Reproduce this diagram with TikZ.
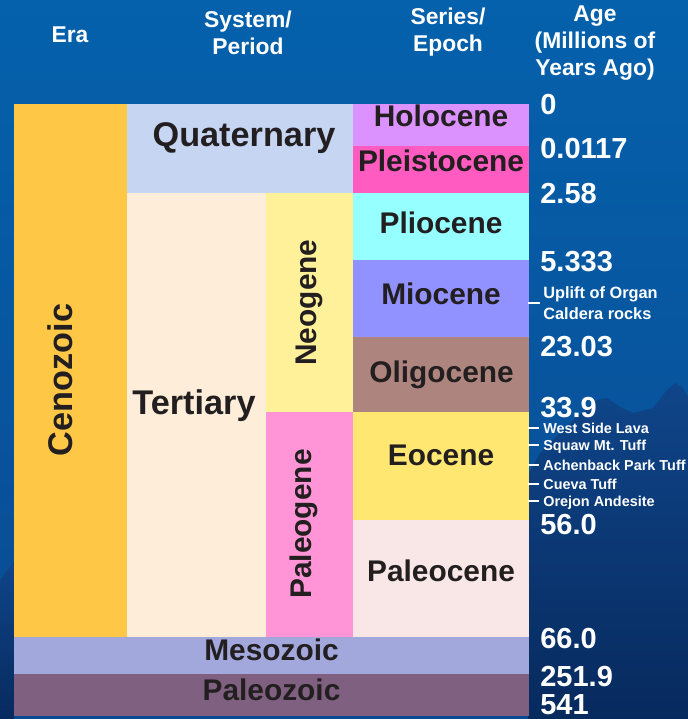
\documentclass[tikz,border=0pt]{standalone}
\usepackage{fontspec}
\setmainfont{Liberation Sans}
\usepackage{tikz}
\usepackage{xcolor}
\definecolor{skytop}{HTML}{0561AC}
\definecolor{skybot}{HTML}{0A4A92}
\definecolor{hilltop}{HTML}{0F4589}
\definecolor{hillbot}{HTML}{072A5E}
\definecolor{ink}{HTML}{231F20}
\definecolor{colCeno}{HTML}{FFC746}
\definecolor{colMeso}{HTML}{A2A8DC}
\definecolor{colPaleoz}{HTML}{806080}
\definecolor{colQuat}{HTML}{C5D5F2}
\definecolor{colTert}{HTML}{FDEDD9}
\definecolor{colNeo}{HTML}{FFF09A}
\definecolor{colPaleog}{HTML}{FF95D6}
\definecolor{colHolo}{HTML}{DB92FF}
\definecolor{colPleis}{HTML}{FF5BC0}
\definecolor{colPlio}{HTML}{96FFFF}
\definecolor{colMio}{HTML}{9191FF}
\definecolor{colOligo}{HTML}{AE857E}
\definecolor{colEo}{HTML}{FFE771}
\definecolor{colPaleoc}{HTML}{F9E7E7}

\begin{document}
\begin{tikzpicture}[x=0.02cm, y=-0.02cm,
  big/.style={font=\fontsize{19.5}{21}\selectfont\bfseries, text=ink, inner sep=0pt, anchor=base},
  mid/.style={font=\fontsize{17}{19}\selectfont\bfseries, text=ink, inner sep=0pt, anchor=base},
  hdr/.style={font=\fontsize{13}{15.3}\selectfont\bfseries, text=white, align=center, inner sep=0pt},
  age/.style={font=\fontsize{16.5}{18}\selectfont\bfseries, text=white, anchor=west, inner sep=0pt},
  rock/.style={font=\fontsize{8.2}{9}\selectfont\bfseries, text=white, anchor=west, inner sep=0pt,
    text height=5.9pt, text depth=0pt},
  tick/.style={white, line width=1.1pt}]

  % Sky and hills
  \shade[top color=skytop, bottom color=skybot] (0,0) rectangle (688,719);
  \useasboundingbox (0,0) rectangle (688,719);
  \shade[top color=hilltop, bottom color=hillbot] (528,719) -- (528,475) -- (540,453) -- (570,423)
    -- (597,400) -- (607,398) -- (620,407) -- (633,413) -- (653,408) -- (667,390) -- (675,383)
    -- (683,388) -- (688,397) -- (688,719) -- cycle;
  \shade[top color=hilltop, bottom color=hillbot] (0,719) -- (0,580) -- (14,562) -- (14,719) -- cycle;

  % Headings
  \node[hdr] (era) at (70,35) {Era};
  \node[hdr] (system) at (248,32.5) {System/\\Period};
  \node[hdr] (series) at (448,32.5) {Series/\\Epoch};
  \node[hdr] (age) at (595,43) {Age\\(Millions of\\Years Ago)};

  % Era
  \fill[colCeno] (14,104) rectangle (127,637);
  \fill[colMeso] (14,637) rectangle (529,674);
  \fill[colPaleoz] (14,674) rectangle (529,716);
  \node[big, rotate=90] (ceno) at (72,380) {Cenozoic};
  \node[mid] (meso) at (271.5,660) {Mesozoic};
  \node[mid] (paleoz) at (271.5,700) {Paleozoic};

  % System / Period
  \fill[colQuat] (127,104) rectangle (353,193);
  \fill[colTert] (127,193) rectangle (266,637);
  \fill[colNeo] (266,193) rectangle (353,412);
  \fill[colPaleog] (266,412) rectangle (353,637);
  \node[big] (quat) at (244,147) {Quaternary};
  \node[big] (tert) at (194,414) {Tertiary};
  \node[mid, rotate=90] (neo) at (316,302.5) {Neogene};
  \node[mid, rotate=90] (paleog) at (311.7,524) {Paleogene};

  % Series / Epoch
  \fill[colHolo] (353,104) rectangle (529,146);
  \fill[colPleis] (353,146) rectangle (529,193);
  \fill[colPlio] (353,193) rectangle (529,260);
  \fill[colMio] (353,260) rectangle (529,337);
  \fill[colOligo] (353,337) rectangle (529,412);
  \fill[colEo] (353,412) rectangle (529,520);
  \fill[colPaleoc] (353,520) rectangle (529,637);
  \node[mid] (holo) at (441,127) {Holocene};
  \node[mid] (pleis) at (441,171.7) {Pleistocene};
  \node[mid] (plio) at (441,234) {Pliocene};
  \node[mid] (mio) at (441,304) {Miocene};
  \node[mid] (oligo) at (441.5,382.7) {Oligocene};
  \node[mid] (eo) at (441,465.7) {Eocene};
  \node[mid] (paleoc) at (441,581.7) {Paleocene};

  % Ages
  \node[age] (a0) at (540,105) {0};
  \node[age] (a1) at (540,149) {0.0117};
  \node[age] (a2) at (540,194) {2.58};
  \node[age] (a3) at (540,262) {5.333};
  \node[age] (a4) at (540,347) {23.03};
  \node[age] (a5) at (540,408) {33.9};
  \node[age] (a6) at (540,525) {56.0};
  \node[age] (a7) at (540,639) {66.0};
  \node[age] (a8) at (540,677) {251.9};
  \node[age] (a9) at (540,704.5) {541};

  % Rock units
  \node[font=\fontsize{9.3}{12}\selectfont\bfseries, text=white, anchor=west, align=left, inner sep=0pt]
    (uplift) at (543,303.5) {Uplift of Organ\\Caldera rocks};
  \node[rock] (wsl) at (543,428) {West Side Lava};
  \node[rock] (squaw) at (543,445) {Squaw Mt. Tuff};
  \node[rock] (achen) at (543,465) {Achenback Park Tuff};
  \node[rock] (cueva) at (543,484) {Cueva Tuff};
  \node[rock] (orejon) at (543,501) {Orejon Andesite};
  \coordinate (tUplift) at (528,303);
  \coordinate (tWsl) at (528,428);
  \coordinate (tSquaw) at (528,445);
  \coordinate (tAchen) at (528,465);
  \coordinate (tCueva) at (528,484);
  \coordinate (tOrejon) at (528,501);
  \draw[tick] (tUplift) -- (tUplift -| a4.west);
  \draw[tick] (tWsl) -- ([xshift=-2pt]wsl.west);
  \draw[tick] (tSquaw) -- ([xshift=-2pt]squaw.west);
  \draw[tick] (tAchen) -- ([xshift=-2pt]achen.west);
  \draw[tick] (tCueva) -- ([xshift=-2pt]cueva.west);
  \draw[tick] (tOrejon) -- ([xshift=-2pt]orejon.west);
\end{tikzpicture}
\end{document}
